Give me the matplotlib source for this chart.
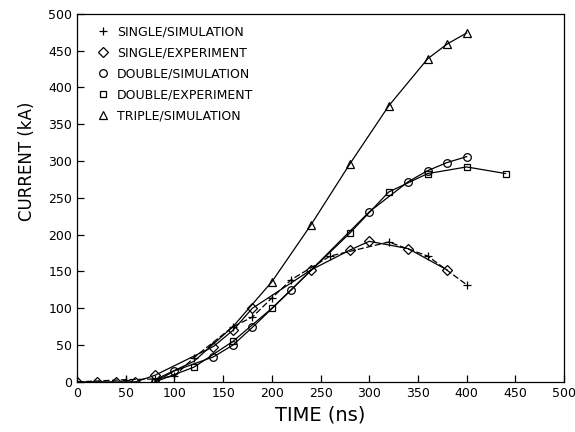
import matplotlib
matplotlib.use("Agg")
import matplotlib.pyplot as plt

# valores (tempo em ns, corrente em kA)
t_single_sim = [0, 50, 80, 100, 120, 160, 180, 200, 220, 260, 320, 360, 400]
i_single_sim = [0, 3, 4, 8, 33, 75, 88, 114, 139, 171, 190, 171, 132]

t_single_exp = [0, 20, 40, 60, 80, 140, 160, 180, 240, 280, 300, 340, 380]
i_single_exp = [0, 0, 0, 0, 9, 48, 70, 100, 152, 179, 191, 181, 152]

t_double_sim = [80, 100, 140, 160, 180, 220, 300, 340, 360, 380, 400]
i_double_sim = [0, 15, 34, 50, 74, 125, 231, 272, 287, 298, 306]

t_double_exp = [80, 120, 160, 200, 280, 320, 360, 400, 440]
i_double_exp = [0, 20, 55, 100, 202, 258, 283, 292, 283]

t_triple_sim = [80, 120, 160, 200, 240, 280, 320, 360, 380, 400]
i_triple_sim = [3, 28, 75, 136, 213, 296, 375, 439, 459, 474]

labels = ["SINGLE/SIMULATION", "SINGLE/EXPERIMENT", "DOUBLE/SIMULATION",
          "DOUBLE/EXPERIMENT", "TRIPLE/SIMULATION"]

fig = plt.figure(figsize=(5.75, 4.32), dpi=100)
ax = fig.add_axes([0.134, 0.116, 0.847, 0.852])

kw = dict(color="black", linewidth=0.9, markerfacecolor="none",
          markeredgecolor="black", markeredgewidth=0.9)

ax.plot(t_single_sim, i_single_sim, marker="+", markersize=6, linestyle=(0, (5, 2)),
        label=labels[0], **kw)
ax.plot(t_single_exp, i_single_exp, marker="D", markersize=5, linestyle="-",
        label=labels[1], **kw)
ax.plot(t_double_sim, i_double_sim, marker="o", markersize=5.5, linestyle="-",
        label=labels[2], **kw)
ax.plot(t_double_exp, i_double_exp, marker="s", markersize=5, linestyle="-",
        label=labels[3], **kw)
# triangulos só aparecem a partir de 200 ns
ax.plot(t_triple_sim, i_triple_sim, marker="^", markersize=6, linestyle="-",
        markevery=list(range(3, len(t_triple_sim))), label=labels[4], **kw)

ax.set_xlim(0, 500)
ax.set_ylim(0, 500)
ax.set_xticks(range(0, 501, 50))
ax.set_yticks(range(0, 501, 50))
ax.tick_params(direction="in", length=5, width=0.9, labelsize=9,
               top=False, right=False)
for s in ax.spines.values():
    s.set_linewidth(0.9)

ax.set_xlabel("TIME (ns)", fontsize=14)
ax.set_ylabel("CURRENT (kA)", fontsize=12)
ax.yaxis.set_label_coords(-0.085, 0.6)

leg = ax.legend(loc="upper left", bbox_to_anchor=(0.02, 1.0), frameon=False,
                fontsize=9, handlelength=0.8, handletextpad=0.7,
                labelspacing=0.65)
for h in leg.legend_handles:
    h.set_linestyle("")

fig.savefig("out.png", dpi=100)
plt.close(fig)
